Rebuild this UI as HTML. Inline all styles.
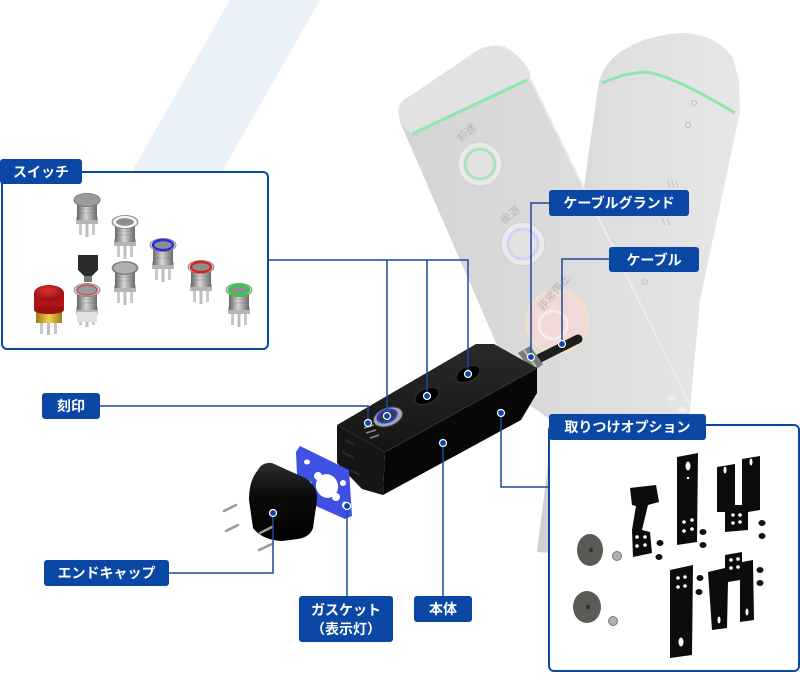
<!DOCTYPE html>
<html><head><meta charset="utf-8">
<style>
html,body{margin:0;padding:0;background:#fff;width:800px;height:673px;overflow:hidden;}
svg{display:block;}
.lb{font-family:"Liberation Sans","Noto Sans CJK JP",sans-serif;font-weight:bold;font-size:14px;fill:#fff;}
.pt{font-family:"Liberation Sans","Noto Sans CJK JP",sans-serif;font-size:11px;fill:#b8b8b8;}
</style></head><body>
<svg width="800" height="673" viewBox="0 0 800 673" xmlns="http://www.w3.org/2000/svg">
<defs>
<linearGradient id="metal" x1="0" x2="1" y1="0" y2="0">
 <stop offset="0" stop-color="#676767"/><stop offset=".45" stop-color="#d6d6d6"/><stop offset="1" stop-color="#6c6c6c"/>
</linearGradient>
<linearGradient id="rp" x1="0" x2="1" y1="0" y2="0">
 <stop offset="0" stop-color="#cfcfcf"/><stop offset=".35" stop-color="#dedede"/><stop offset="1" stop-color="#e7e7e7"/>
</linearGradient>
<linearGradient id="lp" x1="0" x2="1" y1="0" y2="0">
 <stop offset="0" stop-color="#d4d4d4"/><stop offset=".6" stop-color="#dcdcdc"/><stop offset="1" stop-color="#e4e4e4"/>
</linearGradient>
<linearGradient id="cap" x1="0" x2="0" y1="0" y2="1">
 <stop offset="0" stop-color="#2e2e2e"/><stop offset=".4" stop-color="#0c0c0c"/><stop offset="1" stop-color="#000"/>
</linearGradient>
<linearGradient id="topf" x1="0" x2="0" y1="0" y2="1">
 <stop offset="0" stop-color="#2a2a2a"/><stop offset="1" stop-color="#141414"/>
</linearGradient>
<linearGradient id="gold" x1="0" x2="1" y1="0" y2="0">
 <stop offset="0" stop-color="#9a7a10"/><stop offset=".5" stop-color="#f0d050"/><stop offset="1" stop-color="#9a7a10"/>
</linearGradient>
<radialGradient id="red" cx=".45" cy=".35" r=".7">
 <stop offset="0" stop-color="#e03030"/><stop offset="1" stop-color="#8a0c0c"/>
</radialGradient>
<g id="sw">
 <rect x="-8" y="22" width="3" height="13" fill="#c9c9c9"/>
 <rect x="-1.5" y="22" width="3" height="15" fill="#bdbdbd"/>
 <rect x="5" y="22" width="3" height="13" fill="#c9c9c9"/>
 <rect x="-11" y="17" width="22" height="7" fill="#b5b5b5"/>
 <rect x="-10" y="0" width="20" height="20" fill="url(#metal)"/>
 <path d="M-10 5h20M-10 9h20M-10 13h20" stroke="#6a6a6a" stroke-width=".6" opacity=".6"/>
 <ellipse cx="0" cy="0" rx="13" ry="6.5" fill="#d3d3d3" stroke="#7a7a7a" stroke-width=".8"/>
 <ellipse cx="0" cy="0" rx="9" ry="4.5" fill="#8e8e8e"/>
</g>
</defs>

<!-- background band -->
<polygon points="230,0 320,0 120,350 30,350" fill="#eaf1f8"/>

<!-- right background pendant -->
<path d="M598,88 Q600,70 615,56 Q640,36 680,33 Q715,33 733,58 L739,80 L740,112 L700,300 L690,410 L660,560 L537,552 L575,250 Z" fill="url(#rp)"/>
<path d="M602,83 Q625,73 645,72 Q670,74 735,113" fill="none" stroke="#8fe6ab" stroke-width="3"/>
<circle cx="694" cy="103" r="2.5" fill="none" stroke="#bdbdbd"/>
<circle cx="688" cy="125" r="2.5" fill="none" stroke="#bdbdbd"/>
<circle cx="645" cy="282" r="2.5" fill="none" stroke="#c4c4c4"/>
<path d="M668,180 l2,8 M672,180 l2,8 M676,180 l2,8 M662,218 l3,7 M667,218 l3,7" stroke="#c2c2c2" stroke-width="1"/>

<!-- left background pendant -->
<path d="M400,122 L412,134 L530,78 L690,405 L686,418 L552,421 L520,398 Z" fill="url(#lp)"/>
<path d="M398,110 Q400,100 410,96 L478,50 Q492,43 505,47 Q520,55 530,72 L530,78 L412,134 L400,122 Z" fill="#e2e2e2"/>
<path d="M412,134 L527,80" stroke="#8fe6ab" stroke-width="3"/>
<path d="M530,78 L690,405" stroke="#ececec" stroke-width="2"/>
<circle cx="480" cy="164" r="22" fill="#e9e9e9" stroke="#cfcfcf" stroke-width="1"/>
<circle cx="480" cy="164" r="15" fill="#e2e2e2" stroke="#a6e6ba" stroke-width="3"/>
<circle cx="523" cy="244" r="22" fill="#e9e9e9" stroke="#cfcfcf" stroke-width="1"/>
<circle cx="523" cy="244" r="15" fill="#e2e2e2" stroke="#d2d3f4" stroke-width="3"/>
<circle cx="557" cy="322" r="31" fill="#f0d9d6" stroke="#f2e3c4" stroke-width="2"/>
<circle cx="553" cy="325" r="14" fill="none" stroke="#f7ecea" stroke-width="3"/>
<ellipse cx="672" cy="398" rx="5" ry="3" fill="#eeeeee"/>
<ellipse cx="682" cy="410" rx="5" ry="3" fill="#eeeeee"/>
<text class="pt" x="456" y="140" transform="rotate(-40 462 135)">前進</text>
<text class="pt" x="498" y="222" transform="rotate(-40 505 215)">後退</text>
<text class="pt" x="528" y="300" transform="rotate(-50 548 290)">非常停止</text>

<!-- switch box -->
<rect x="2" y="172" width="266" height="177" rx="5" fill="#fff" stroke="#0b48a6" stroke-width="2"/>
<!-- switches -->
<g transform="translate(87,200)"><use href="#sw"/><ellipse cx="0" cy="0" rx="13" ry="6.5" fill="#9a9a9a" stroke="#777" stroke-width=".8"/></g>
<g transform="translate(125,222)"><use href="#sw"/><ellipse cx="0" cy="0" rx="10" ry="5" fill="#8e8e8e" stroke="#f6f6f6" stroke-width="2.2"/></g>
<g transform="translate(163,245)"><use href="#sw"/><ellipse cx="0" cy="0" rx="10" ry="5" fill="#8e8e8e" stroke="#1d2fe6" stroke-width="2.4"/></g>
<g transform="translate(201,267)"><use href="#sw"/><ellipse cx="0" cy="0" rx="10" ry="5" fill="#8e8e8e" stroke="#e41e1e" stroke-width="2.4"/></g>
<g transform="translate(239,290)"><use href="#sw"/><ellipse cx="0" cy="0" rx="10" ry="5" fill="#8e8e8e" stroke="#22d838" stroke-width="2.4"/></g>
<!-- key switch head -->
<path d="M78,255 L98,255 L98,270 L92,276 L84,276 L78,270 Z" fill="#2b2b2b"/>
<rect x="84" y="276" width="8" height="6" fill="#777"/>
<g transform="translate(125,268)"><use href="#sw"/><ellipse cx="0" cy="0" rx="12" ry="6" fill="#b0b0b0" stroke="#777" stroke-width=".8"/></g>
<g transform="translate(87,290)"><use href="#sw"/><ellipse cx="0" cy="0" rx="10" ry="5" fill="#9a9a9a" stroke="#c84a4a" stroke-width="1.4"/><rect x="-10" y="22" width="20" height="10" fill="#e0e0e0"/></g>
<!-- emergency -->
<g>
 <rect x="40" y="322" width="3" height="12" fill="#c9c9c9"/><rect x="47" y="322" width="3" height="13" fill="#bdbdbd"/><rect x="54" y="322" width="3" height="12" fill="#c9c9c9"/>
 <rect x="36" y="309" width="26" height="14" fill="url(#gold)"/>
 <rect x="34" y="293" width="30" height="17" fill="#b01414"/>
 <ellipse cx="49" cy="310" rx="15" ry="4" fill="#9a1010"/>
 <ellipse cx="49" cy="293" rx="15" ry="8" fill="url(#red)"/>
</g>

<!-- option box -->
<rect x="549" y="425" width="250" height="246" rx="5" fill="#fff" stroke="#0b48a6" stroke-width="2"/>
<ellipse cx="590" cy="550" rx="13" ry="16" fill="#5a5a55"/>
<ellipse cx="591" cy="550" rx="2" ry="2.5" fill="#333"/>
<ellipse cx="587" cy="607" rx="14" ry="16" fill="#5c5c57"/>
<ellipse cx="588" cy="607" rx="2" ry="2.5" fill="#333"/>
<circle cx="617" cy="556" r="4.5" fill="#b0b0b0" stroke="#777"/>
<circle cx="613" cy="621" r="4.5" fill="#b0b0b0" stroke="#777"/>
<path d="M630,488 L656,485 L659,502 L648,505 L642,530 L650,532 L652,553 L633,557 L632,530 L636,506 L632,505 Z" fill="#0c0c0c"/>
<path d="M677,457 L698,453 L697,542 L677,545 Z" fill="#0c0c0c"/>
<path d="M717,467 L735,464 L735,505 L742,505 L742,459 L760,456 L760,510 L748,512 L748,530 L725,532 L725,512 L717,512 Z" fill="#0c0c0c"/>
<path d="M670,570 L693,565 L692,655 L670,658 Z" fill="#0c0c0c"/>
<path d="M708,572 L725,568 L725,555 L742,552 L742,562 L753,560 L754,620 L740,622 L740,580 L728,582 L727,628 L712,630 Z" fill="#0c0c0c"/>
<g fill="#fff">
 <ellipse cx="688" cy="466" rx="2.5" ry="4.5"/><circle cx="688" cy="478" r="1.2"/>
 <circle cx="684" cy="522" r="1.8"/><circle cx="692" cy="520" r="1.8"/><circle cx="684" cy="531" r="1.8"/><circle cx="692" cy="529" r="1.8"/>
 <circle cx="637" cy="537" r="1.8"/><circle cx="645" cy="537" r="1.8"/><circle cx="637" cy="546" r="1.8"/><circle cx="645" cy="545" r="1.8"/>
 <ellipse cx="725" cy="470" rx="1.5" ry="3.5"/><ellipse cx="751" cy="462" rx="1.5" ry="3.5"/>
 <circle cx="733" cy="515" r="1.8"/><circle cx="740" cy="515" r="1.8"/><circle cx="733" cy="523" r="1.8"/><circle cx="740" cy="522" r="1.8"/>
 <circle cx="678" cy="578" r="1.8"/><circle cx="685" cy="577" r="1.8"/><circle cx="678" cy="587" r="1.8"/><circle cx="685" cy="586" r="1.8"/>
 <ellipse cx="681" cy="642" rx="2.5" ry="4.5"/>
 <circle cx="731" cy="560" r="1.8"/><circle cx="738" cy="559" r="1.8"/><circle cx="731" cy="568" r="1.8"/><circle cx="738" cy="567" r="1.8"/>
 <ellipse cx="719" cy="620" rx="1.5" ry="3.5"/><ellipse cx="747" cy="612" rx="1.5" ry="3.5"/>
</g>
<g fill="#111">
 <ellipse cx="660" cy="543" rx="3.5" ry="3"/><ellipse cx="659" cy="557" rx="3.5" ry="3"/>
 <ellipse cx="703" cy="532" rx="3.5" ry="3"/><ellipse cx="703" cy="545" rx="3.5" ry="3"/>
 <ellipse cx="762" cy="523" rx="3.5" ry="3"/><ellipse cx="762" cy="536" rx="3.5" ry="3"/>
 <ellipse cx="700" cy="578" rx="3.5" ry="3"/><ellipse cx="699" cy="592" rx="3.5" ry="3"/>
 <ellipse cx="760" cy="570" rx="3.5" ry="3"/><ellipse cx="760" cy="583" rx="3.5" ry="3"/>
</g>

<!-- main product -->
<!-- cable -->
<path d="M538,359 L578,339" stroke="#1e1e1e" stroke-width="9" stroke-linecap="round"/>
<path d="M518,353 L530,346 L543,364 L533,372 Z" fill="#7c7c7c"/>
<path d="M524,350 L536,367" stroke="#bbb" stroke-width="2"/>
<!-- body -->
<polygon points="337,425 385,452 383,495 362,489 337,463" fill="#151515"/>
<polygon points="337,425 476,344 494,344 537,368 385,452" fill="url(#topf)"/>
<polygon points="385,452 537,368 537,393 521,420 383,495" fill="#070707"/>
<path d="M385,452 L537,368" stroke="#333" stroke-width="1"/>
<path d="M345,440 l10,5 M342,452 l12,6 M350,470 l10,5" stroke="#2a2a2a" stroke-width="2"/>
<!-- holes -->
<ellipse cx="427" cy="396" rx="13" ry="7.5" fill="#000" stroke="#2c2c2c" stroke-width="1.5" transform="rotate(-25 427 396)"/>
<ellipse cx="468" cy="374" rx="13" ry="7.5" fill="#000" stroke="#2c2c2c" stroke-width="1.5" transform="rotate(-25 468 374)"/>
<!-- button -->
<ellipse cx="388" cy="417" rx="15" ry="9" fill="#a8a8a8" stroke="#555" stroke-width="1" transform="rotate(-20 388 417)"/>
<ellipse cx="387" cy="416" rx="10" ry="6" fill="#3a3a3a" stroke="#2a3cf2" stroke-width="2" transform="rotate(-20 387 416)"/>
<path d="M364,428 l10,-3 M366,433 l10,-3 M370,438 l9,-3" stroke="#8a8a8a" stroke-width="1.5"/>

<!-- gasket -->
<polygon points="300,446 349,470 352,516 345,519 298,498 296,452" fill="#3f51e4"/>
<g fill="#fff">
 <ellipse cx="307" cy="462" rx="3" ry="2.5"/>
 <ellipse cx="309" cy="484" rx="3" ry="3"/>
 <ellipse cx="343" cy="483" rx="3" ry="3"/>
 <ellipse cx="345" cy="505" rx="3" ry="3.5"/>
 <ellipse cx="327" cy="486" rx="11" ry="12" transform="rotate(-20 327 486)"/>
 <ellipse cx="318" cy="476" rx="4" ry="4"/><ellipse cx="336" cy="497" rx="4" ry="4"/>
</g>
<!-- end cap -->
<path d="M258,470 Q262,462 272,463 L305,478 Q318,486 317,500 L313,528 Q310,537 298,539 L282,541 Q262,540 253,528 L249,500 Q249,480 258,470 Z" fill="url(#cap)"/>
<!-- screws -->
<g stroke="#9a9a9a" stroke-width="2.5" stroke-linecap="round">
 <path d="M224,511 L236,505"/><path d="M226,531 L238,525"/><path d="M260,533 L272,527"/><path d="M259,550 L272,544"/>
</g>

<!-- connector lines -->
<g fill="none" stroke="#1a4a9c" stroke-width="1.5">
 <path d="M268,260 H468 V374"/>
 <path d="M387,260 V416"/>
 <path d="M427,260 V396"/>
 <path d="M100,406 H368 V423"/>
 <path d="M549,203 H531 V357"/>
 <path d="M609,259 H562 V344"/>
 <path d="M443,443 V596"/>
 <path d="M501,413 V487 H549"/>
 <path d="M169,573 H273 V513"/>
 <path d="M347,506 V596"/>
</g>
<g fill="#0b48a6" stroke="#fff" stroke-width="1.2">
 <circle cx="387" cy="416" r="3.5"/><circle cx="427" cy="396" r="3.5"/><circle cx="468" cy="374" r="3.5"/>
 <circle cx="368" cy="423" r="3.5"/><circle cx="531" cy="357" r="3.5"/><circle cx="562" cy="344" r="3.5"/>
 <circle cx="443" cy="443" r="3.5"/><circle cx="501" cy="413" r="3.5"/><circle cx="273" cy="513" r="3.5"/>
 <circle cx="347" cy="506" r="3.5"/>
</g>

<!-- labels -->
<g fill="#0b48a6">
 <rect x="0" y="159" width="82" height="25" rx="3"/>
 <rect x="549" y="190" width="140" height="26" rx="3"/>
 <rect x="609" y="247" width="90" height="25" rx="3"/>
 <rect x="42" y="393" width="58" height="26" rx="3"/>
 <rect x="44" y="560" width="125" height="26" rx="3"/>
 <rect x="299" y="596" width="94" height="46" rx="3"/>
 <rect x="414" y="596" width="58" height="26" rx="3"/>
 <rect x="549" y="414" width="157" height="26" rx="3"/>
</g>
<g class="lb" text-anchor="middle">
 <text x="41" y="177">スイッチ</text>
 <text x="619" y="208">ケーブルグランド</text>
 <text x="654" y="265">ケーブル</text>
 <text x="71" y="411">刻印</text>
 <text x="106.5" y="578">エンドキャップ</text>
 <text x="346" y="615">ガスケット</text>
 <text x="346" y="634">（表示灯）</text>
 <text x="443" y="614">本体</text>
 <text x="627.5" y="432">取りつけオプション</text>
</g>
</svg>
</body></html>
